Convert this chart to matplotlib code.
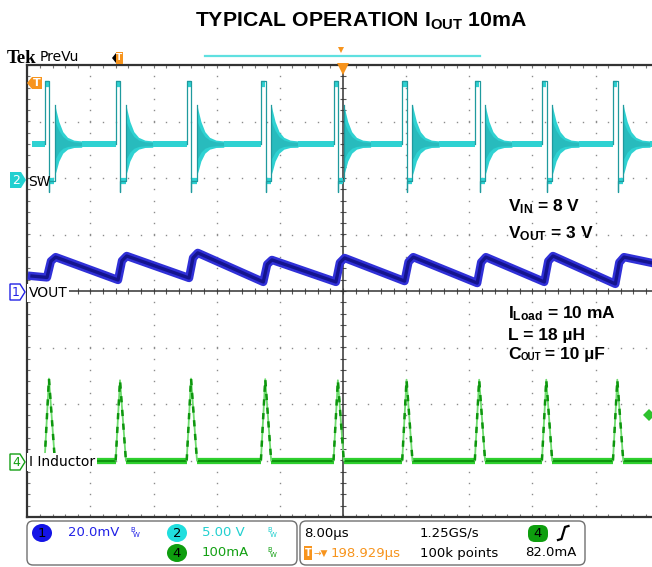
import matplotlib
matplotlib.use('Agg')
import matplotlib.pyplot as plt
import numpy as np
from matplotlib.patches import Polygon, FancyBboxPatch, Ellipse, Rectangle

plt.rcParams['mathtext.fontset'] = 'custom'
plt.rcParams['mathtext.rm'] = 'Liberation Sans:bold'
plt.rcParams['mathtext.it'] = 'Liberation Sans:bold'
plt.rcParams['mathtext.bf'] = 'Liberation Sans:bold'

# ---------------- data ----------------
time_per_div = 8.0        # us/div
sw_volts_per_div = 5.0    # ch2
vout_mv_per_div = 20.0    # ch1
il_ma_per_div = 100.0     # ch4
ch2_pos, ch1_pos, ch4_pos = 2.0, 0.0, -3.0   # channel ground markers (div)

t_start = -39.4
t_end = 39.2

# SW rising edges (us, relative to trigger)
sw_rise_us = [-37.8, -28.8, -19.8, -10.4, -1.2, 7.5, 16.7, 25.2, 34.2]

# SW node levels (V)
sw_base_v = 3.0
sw_high_v = 8.6
sw_low_v = -0.3
sw_dip_v = -1.2
sw_high_us = 0.6
sw_low_us = 0.7

# ringing envelope once the inductor current hits zero
ring_dt_us = [0.0, 0.15, 0.5, 1.0, 1.6, 2.4, 3.4]
ring_hi_v = [6.5, 6.0, 5.0, 4.1, 3.6, 3.35, 3.28]
ring_lo_v = [0.3, 0.6, 1.5, 2.2, 2.55, 2.7, 2.72]

# VOUT ripple (mV above ch1 marker)
vout_first_mv = 5.3
vout_valley_mv = [4.8, 3.9, 4.6, 3.2, 3.2, 3.5, 2.8, 3.2, 2.5]
vout_peak_mv = [12.0, 12.4, 13.5, 11.0, 11.7, 12.0, 12.0, 12.4, 12.0]
vout_last_mv = 9.9
vout_rise_dt = [0.3, 0.8, 1.4]
vout_rise_frac = [0.0, 0.8, 1.0]

# inductor current (mA)
il_peak_ma = [145, 142, 145, 144, 142, 143, 143, 143, 143]
il_base_ma = 0.0
il_dt = [0.0, 0.55, 1.3]

# ---------------- figure ----------------
W, H = 652, 567
fig = plt.figure(figsize=(W / 100, H / 100), dpi=100)
X0, XC, Y0, Y1 = 27.25, 343.0, 65.0, 517.0
pxdx = (XC - X0) / 5
ax = fig.add_axes([X0 / W, 1 - Y1 / H, (W - X0) / W, (Y1 - Y0) / H])
xmax = (W - XC) / pxdx
ax.set_xlim(-5, xmax)
ax.set_ylim(-4, 4)
ax.axis('off')


def tx(t):
    return np.asarray(t, dtype=float) / time_per_div


def swy(v):
    return np.asarray(v, dtype=float) / sw_volts_per_div + ch2_pos


# ---- graticule ----
GRID = '#8c8c8c'
FRAME = '#333333'
for xm in range(-4, 6):
    if xm == 0:
        continue
    ys = np.arange(-4, 4.001, 0.2)
    ax.plot(np.full(ys.shape, xm), ys, ls='none', marker='s', ms=1.0, mew=0, color=GRID, zorder=1)
for ym in range(-3, 4):
    if ym == 0:
        continue
    xs = np.arange(-5, 5.001, 0.2)
    ax.plot(xs, np.full(xs.shape, ym), ls='none', marker='s', ms=1.0, mew=0, color=GRID, zorder=1)

tk = 0.055
xs_t = np.arange(-5, 5.001, 0.2)
ys_t = np.arange(-4, 4.001, 0.2)
ax.vlines(xs_t, 4 - tk, 4, color='#777777', lw=0.8, zorder=1)
ax.vlines(xs_t, -4, -4 + tk, color='#777777', lw=0.8, zorder=1)
ax.hlines(ys_t, -5, -5 + tk * 0.9, color='#777777', lw=0.8, zorder=1)
ax.vlines(xs_t, -tk, tk, color='#555555', lw=0.8, zorder=1)
ax.hlines(ys_t, -tk * 0.9, tk * 0.9, color='#555555', lw=0.8, zorder=1)
ax.plot([-5, 5.2], [0, 0], color=FRAME, lw=1.1, zorder=1)
ax.plot([0, 0], [-4, 4], color=FRAME, lw=1.1, zorder=1)
ax.plot([-5, 5.2], [4, 4], color=FRAME, lw=1.6, zorder=2, clip_on=False)
ax.plot([-5, 5.2], [-4, -4], color=FRAME, lw=1.6, zorder=2, clip_on=False)
ax.plot([-5, -5], [-4, 4], color=FRAME, lw=1.6, zorder=2, clip_on=False)

# ---- SW trace (ch2) ----
CY = '#2fd2d2'
CY_D = '#1f9a9e'
ax.fill_between(tx([t_start, sw_rise_us[0]]), swy([2.72] * 2), swy([3.28] * 2), color=CY, lw=0, zorder=3)
for i, tr in enumerate(sw_rise_us):
    t_fall = tr + sw_high_us
    t_ring = t_fall + sw_low_us
    ax.plot(tx([tr, tr, t_fall, t_fall, t_fall, t_ring, t_ring]),
            swy([sw_base_v, sw_high_v, sw_high_v, sw_dip_v, sw_low_v, sw_low_v, ring_hi_v[0]]),
            color=CY_D, lw=0.9, zorder=4)
    ax.plot(tx([tr + 0.05, t_fall - 0.05]), swy([sw_high_v - 0.25] * 2), color=CY, lw=4.5,
            solid_capstyle='butt', zorder=3)
    ax.plot(tx([t_fall + 0.05, t_ring - 0.05]), swy([sw_low_v] * 2), color=CY, lw=4.5,
            solid_capstyle='butt', zorder=3)
    rt = t_ring + np.asarray(ring_dt_us)
    hi = np.asarray(ring_hi_v)
    lo = np.asarray(ring_lo_v)
    ax.fill_between(tx(rt), swy(lo), swy(hi), color=CY, lw=0, zorder=3)
    mid = (hi + lo) / 2
    half = (hi - lo) / 2
    ax.fill_between(tx(rt), swy(mid - 0.55 * half), swy(mid + 0.55 * half), color='#23a9ad', lw=0,
                    alpha=0.55, zorder=3)
    t_next = sw_rise_us[i + 1] if i + 1 < len(sw_rise_us) else t_end
    ax.fill_between(tx([rt[-1], t_next]), swy([2.72] * 2), swy([3.28] * 2), color=CY, lw=0, zorder=3)

# ---- VOUT trace (ch1) ----
vt = [t_start]
vv = [vout_first_mv]
for tr, lo_mv, hi_mv in zip(sw_rise_us, vout_valley_mv, vout_peak_mv):
    for dt, f in zip(vout_rise_dt, vout_rise_frac):
        vt.append(tr + dt)
        vv.append(lo_mv + f * (hi_mv - lo_mv))
vt.append(t_end)
vv.append(vout_last_mv)
vy = np.asarray(vv) / vout_mv_per_div + ch1_pos
ax.plot(tx(vt), vy, color='#3030d8', lw=6.0, solid_joinstyle='round', zorder=5)
ax.plot(tx(vt), vy, color='#14148e', lw=2.4, solid_joinstyle='round', zorder=5)

# ---- inductor current (ch4) ----
GR = '#2fd02f'
GR_D = '#0e960e'


def ily(v):
    return np.asarray(v, dtype=float) / il_ma_per_div + ch4_pos


seg_starts = [t_start] + [tr + il_dt[2] for tr in sw_rise_us]
seg_ends = [tr + il_dt[0] for tr in sw_rise_us] + [t_end]
for a, b in zip(seg_starts, seg_ends):
    ax.plot(tx([a, b]), ily([il_base_ma] * 2), color=GR, lw=4.5, solid_capstyle='butt', zorder=5)
    ax.plot(tx([a, b]), ily([il_base_ma] * 2), color=GR_D, lw=1.5, solid_capstyle='butt', zorder=5)
for tr, pk in zip(sw_rise_us, il_peak_ma):
    tt = tx([tr + d for d in il_dt])
    yy = ily([il_base_ma, pk, il_base_ma])
    ax.plot(tt, yy, color='#6fdc6f', lw=1.3, zorder=5)
    ax.plot(tt, yy, color=GR_D, lw=1.8, dashes=(2.5, 3), zorder=5)

# ---------------- overlay (pixel coordinates) ----------------
ov = fig.add_axes([0, 0, 1, 1])
ov.set_xlim(0, W)
ov.set_ylim(H, 0)
ov.axis('off')
ov.patch.set_alpha(0)

ORANGE = '#f7941d'
BLUE = '#2222e6'
CYAN = '#22d0d0'
GREEN = '#14a014'
SANS = 'DejaVu Sans'

# title
ov.text(361, 27, r'TYPICAL OPERATION I$_{\mathrm{OUT}}$ 10mA', ha='center', va='baseline',
        fontsize=15.3, fontweight='bold', family='Liberation Sans')

# Tek PreVu
ov.text(7, 63, 'Tek', fontsize=13.5, fontweight='bold', family='Liberation Serif', va='baseline')
ov.text(40, 61, 'PreVu', fontsize=10, family=SANS, va='baseline')
ov.add_patch(Polygon([(112, 58), (116, 53), (116, 63)], closed=True, fc='black', ec='none'))
ov.add_patch(Rectangle((116, 52), 7, 12, fc=ORANGE, ec='none'))
ov.text(119.5, 58, 'T', color='white', fontsize=6.5, fontweight='bold', ha='center', va='center')
ov.plot([205, 480], [55.5, 55.5], color='#5fe0e0', lw=1.6)
ov.plot([341], [50], marker='v', ms=5, color=ORANGE, mew=0)
ov.plot([343], [69], marker='v', ms=9, color=ORANGE, mew=0)

# trigger level marker (left)
ov.add_patch(Polygon([(27, 83), (32, 77), (42, 77), (42, 89), (32, 89)], closed=True, fc=ORANGE, ec='none'))
ov.text(36.5, 83.5, 'T', color='white', fontsize=8, fontweight='bold', ha='center', va='center')

# channel markers
ov.add_patch(Polygon([(10, 172), (21, 172), (26, 180), (21, 188), (10, 188)], closed=True, fc=CYAN, ec='none'))
ov.text(16, 180.5, '2', color='white', fontsize=9, ha='center', va='center', family=SANS)
ov.text(28, 182, 'SW', fontsize=10, va='center', family=SANS)

ov.add_patch(Polygon([(10, 284), (20, 284), (25, 292), (20, 300), (10, 300)], closed=True, fc='white',
                     ec=BLUE, lw=1))
ov.text(16, 292.5, '1', color=BLUE, fontsize=9, ha='center', va='center', family=SANS)
ov.text(29, 293, 'VOUT', fontsize=10, va='center', family=SANS,
        bbox=dict(fc='white', ec='none', pad=1.2))

ov.add_patch(Polygon([(10, 454), (20, 454), (25, 462), (20, 470), (10, 470)], closed=True, fc='white',
                     ec=GREEN, lw=1))
ov.text(16, 462.5, '4', color=GREEN, fontsize=9, ha='center', va='center', family=SANS)
ov.text(29, 462, 'I Inductor', fontsize=10, va='center', family=SANS,
        bbox=dict(fc='white', ec='none', pad=1.2))

# ch4 trigger level marker (right edge)
ov.add_patch(Polygon([(643, 415), (649, 409), (655, 415), (649, 421)], closed=True, fc='#2ec22e', ec='none'))

# annotations
AF = dict(fontsize=12.5, fontweight='bold', family='Liberation Sans', va='baseline')
ov.text(508, 211, r'V$_{\mathrm{IN}}$ = 8 V', **AF)
ov.text(508, 238, r'V$_{\mathrm{OUT}}$ = 3 V', **AF)
ov.text(508, 318, r'I$_{\mathrm{Load}}$ = 10 mA', **AF)
ov.text(508, 340, 'L = 18 µH', **AF)
ov.text(508, 359, 'C', **AF)
ov.text(521, 360, 'OUT', fontsize=7, fontweight='bold', family='Liberation Sans', va='baseline')
ov.text(540, 359, ' = 10 µF', **AF)

# status bar
ov.add_patch(FancyBboxPatch((27, 521), 270, 44, boxstyle='round,pad=0,rounding_size=6',
                            fc='white', ec='#707070', lw=1))
ov.add_patch(FancyBboxPatch((300, 521), 285, 44, boxstyle='round,pad=0,rounding_size=6',
                            fc='white', ec='#707070', lw=1))
BF = dict(fontsize=9.5, family=SANS, va='center')
R1, R2 = 533, 553
ov.add_patch(Ellipse((42, R1), 20, 18, fc='#1414e6', ec='none'))
ov.text(42, R1 + 0.5, '1', ha='center', **BF)
ov.text(68, R1, '20.0mV', color=BLUE, **BF)
ov.add_patch(Ellipse((177, R1), 20, 18, fc='#20dede', ec='none'))
ov.text(177, R1 + 0.5, '2', ha='center', **BF)
ov.text(202, R1, '5.00 V', color=CYAN, **BF)
ov.add_patch(Ellipse((177, R2), 20, 18, fc='#0e9e0e', ec='none'))
ov.text(177, R2 + 0.5, '4', ha='center', **BF)
ov.text(202, R2, '100mA', color=GREEN, **BF)
for bx, by, col in [(130, R1, BLUE), (267, R1, CYAN), (267, R2, GREEN)]:
    ov.text(bx, by - 3, 'B', color=col, fontsize=5, family=SANS, va='center')
    ov.text(bx + 3, by + 2, 'W', color=col, fontsize=5, family=SANS, va='center')

ov.text(304, R1, '8.00µs', **BF)
ov.text(420, R1, '1.25GS/s', **BF)
ov.add_patch(FancyBboxPatch((528, 525), 20, 17, boxstyle='round,pad=0,rounding_size=7',
                            fc='#0e9e0e', ec='none'))
ov.text(538, R1 + 0.5, '4', ha='center', **BF)
ov.plot([558, 561.5, 565, 568.5], [540, 539, 527, 526], color='black', lw=1.6)
ov.add_patch(Rectangle((304, 546), 8, 14, fc=ORANGE, ec='none'))
ov.text(308, R2 + 0.5, 'T', color='white', fontsize=7, fontweight='bold', ha='center', va='center')
ov.text(313, R2, '→▼', color=ORANGE, fontsize=6.5, family=SANS, va='center')
ov.text(331, R2, '198.929µs', color=ORANGE, **BF)
ov.text(420, R2, '100k points', **BF)
ov.text(525, R2, '82.0mA', **BF)

fig.savefig('out.png', dpi=100)
